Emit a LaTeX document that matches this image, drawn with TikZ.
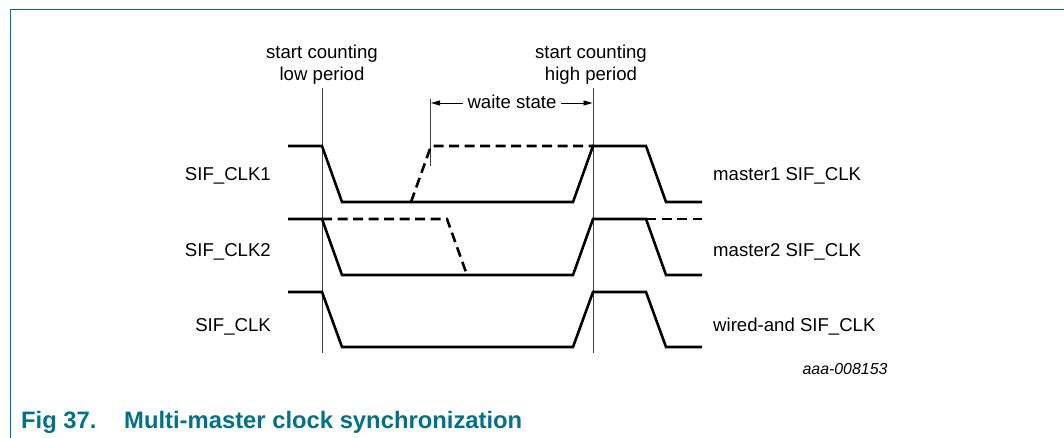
\documentclass[tikz,border=0pt]{standalone}
\usepackage{fontspec}
\setmainfont{Liberation Sans}
\usetikzlibrary{arrows.meta}
\definecolor{nxpteal}{RGB}{0,115,140}
\begin{document}
\begin{tikzpicture}[x=1pt,y=-1pt,
  wave/.style={line width=2.6pt, line join=miter, line cap=butt},
  dwave/.style={wave, dash pattern=on 10pt off 5.5pt},
  marker/.style={line width=0.9pt, draw=black!75},
  lbl/.style={font=\fontsize{18.6}{22}\selectfont, inner sep=0pt},
  idlbl/.style={font=\fontsize{15.9}{19}\selectfont\itshape, inner sep=0pt},
  figcaption/.style={font=\fontsize{23.8}{28}\selectfont\bfseries, text=nxpteal, inner sep=0pt},
  dimarrow/.style={line width=0.9pt, -{Triangle[length=9pt,width=5pt]}}]
\useasboundingbox (0,0) rectangle (1064,438);
% frame
\draw[nxpteal, line width=1.4pt] (10.5,438) -- (10.5,9.5) -- (1064,9.5);
% top labels
\node[lbl, anchor=base] (lowA) at (322,58.5) {start counting};
\node[lbl, anchor=base] (lowB) at (322,81) {low period};
\node[lbl, anchor=base] (highA) at (591,58.5) {start counting};
\node[lbl, anchor=base] (highB) at (591,81) {high period};
% vertical markers
\coordinate (v1top) at (322,88);
\coordinate (v1bot) at (322,353);
\coordinate (v2top) at (593,88);
\coordinate (v2bot) at (593,353);
\coordinate (mtop) at (430.5,99);
\coordinate (mbot) at (430.5,166);
\draw[marker] (v1top) -- (v1bot);
\draw[marker] (v2top) -- (v2bot);
\draw[marker] (mtop) -- (mbot);
% waite state
\node[lbl, anchor=base] (ws) at (512,108.5) {waite state};
\coordinate (wsL) at (463,103);
\coordinate (wsR) at (561,103);
\coordinate (mkL) at (431,103);
\coordinate (mkR) at (592.5,103);
\draw[dimarrow] (wsL) -- (mkL);
\draw[dimarrow] (wsR) -- (mkR);
% SIF_CLK1
\draw[wave] (288,146) -- (322,146) -- (342,202) -- (573,202) -- (593,146) -- (646,146) -- (666,202) -- (702,202);
\draw[dwave] (411,202) -- (431,146) -- (593,146);
% SIF_CLK2
\draw[wave] (288,219) -- (322,219) -- (342,275) -- (573,275) -- (593,219) -- (646,219) -- (666,275) -- (702,275);
\draw[dwave] (322,219) -- (447,219) -- (467,275);
\draw[dwave] (646,219) -- (702,219);
% SIF_CLK
\draw[wave] (288,292) -- (322,292) -- (342,347) -- (573,347) -- (593,292) -- (646,292) -- (666,347) -- (702,347);
% left labels
\node[lbl, anchor=base east] (l1) at (271,181) {SIF\_CLK1};
\node[lbl, anchor=base east] (l2) at (271,256) {SIF\_CLK2};
\node[lbl, anchor=base east] (l3) at (271,331) {SIF\_CLK};
% right labels
\node[lbl, anchor=base west] (r1) at (713,181) {master1 SIF\_CLK};
\node[lbl, anchor=base west] (r2) at (713,256) {master2 SIF\_CLK};
\node[lbl, anchor=base west] (r3) at (713,331) {wired-and SIF\_CLK};
% figure id
\node[idlbl, anchor=base] (fid) at (845,374) {aaa-008153};
% caption
\node[figcaption, anchor=base west] (capA) at (21,428) {Fig 37.};
\node[figcaption, anchor=base west] (capB) at (124,428) {Multi-master clock synchronization};
\end{tikzpicture}
\end{document}
